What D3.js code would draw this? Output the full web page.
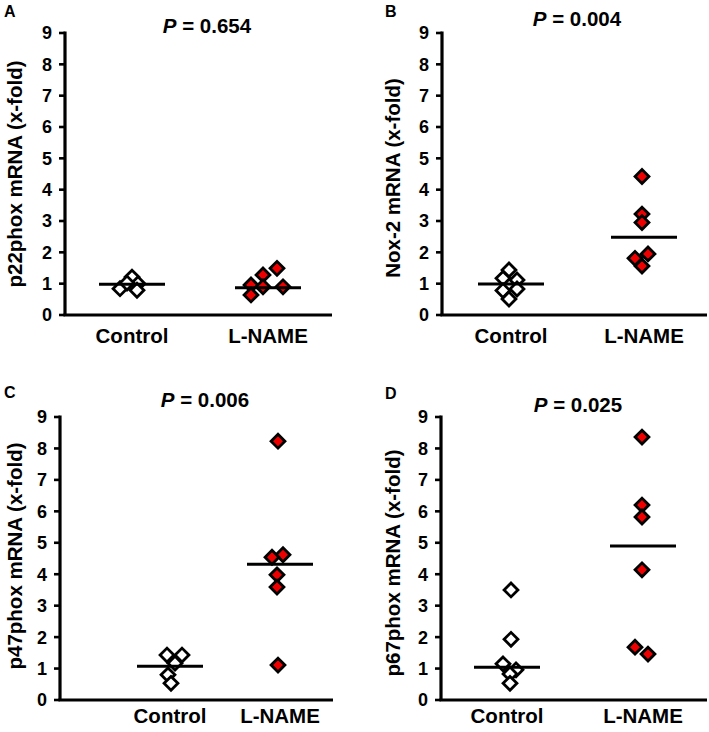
<!DOCTYPE html>
<html>
<head>
<meta charset="utf-8">
<script src="https://cdn.jsdelivr.net/npm/d3@7"></script>
<style>
  body { margin: 0; background: #fff; }
  svg text { font-family: Arial, "Liberation Sans", sans-serif; font-weight: bold; fill: #000; }
  .ytick { font-size: 18px; }
</style>
</head>
<body>
<div id="chart"></div>
<script>
// categories, ticks and labels
var groups = ["Control", "L-NAME"];
var yTicks = [0, 1, 2, 3, 4, 5, 6, 7, 8, 9];
var panelLetters = ["A", "B", "C", "D"];
var pValues = ["0.654", "0.004", "0.006", "0.025"];
var yTitles = ["p22phox mRNA (x-fold)", "Nox-2 mRNA (x-fold)", "p47phox mRNA (x-fold)", "p67phox mRNA (x-fold)"];

// values (x-fold)
var p22Control = [1.21, 1.00, 0.84, 1.02, 0.79];
var p22Lname   = [1.49, 1.28, 0.96, 0.90, 0.90, 0.64];
var p22Lines   = [0.98, 0.87];

var nox2Control = [1.44, 1.17, 1.12, 0.78, 0.83, 0.51];
var nox2Lname   = [4.42, 3.22, 2.95, 1.81, 1.95, 1.56];
var nox2Lines   = [0.99, 2.48];

var p47Control = [1.43, 1.43, 1.17, 0.80, 0.53];
var p47Lname   = [8.23, 4.62, 4.54, 3.98, 3.59, 1.11];
var p47Lines   = [1.07, 4.32];

var p67Control = [3.50, 1.93, 1.15, 0.96, 0.83, 0.53];
var p67Lname   = [8.36, 6.20, 5.82, 4.14, 1.68, 1.46];
var p67Lines   = [1.04, 4.90];

var panelData = [
  [p22Control, p22Lname, p22Lines],
  [nox2Control, nox2Lname, nox2Lines],
  [p47Control, p47Lname, p47Lines],
  [p67Control, p67Lname, p67Lines]
];

// layout of each panel (pixels), plus horizontal scatter of the points
var layout = [
  {x0: 65, x1: 332, top: 33, bottom: 315, cats: [132, 268], letter: [4, 17], title: [207, 33], yTitle: [22, 174], labelPad: 13,
   jitter: [[0, 6, -12, -5, 5], [9, -5, -17, -5, 15, -17]]},
  {x0: 442, x1: 707, top: 33, bottom: 315, cats: [511, 644], letter: [385, 17], title: [577, 26], yTitle: [400, 178], labelPad: 13,
   jitter: [[-2, -8, 6, -8, 6, -2], [-2, -2, -2, -9, 4, -2]]},
  {x0: 60, x1: 333, top: 417, bottom: 700, cats: [170, 280], letter: [4, 398], title: [205, 407], yTitle: [22, 556], labelPad: 8,
   jitter: [[-3, 12, 5, -2, 1], [-2, 3, -8, -3, -3, -2]]},
  {x0: 441, x1: 707, top: 417, bottom: 700, cats: [507, 643], letter: [385, 399], title: [578, 412], yTitle: [400, 563], labelPad: 8,
   jitter: [[4, 4, -4, 9, 3, 3], [-1, -1, -1, -1, -8, 5]]}
];

var fills = ["#ffffff", "#ee0000"];

var svg = d3.select("#chart")
  .append("svg")
    .attr("width", 709)
    .attr("height", 732);

var diamond = d3.symbol().type(d3.symbolSquare).size(96);

layout.forEach(function(p, i) {
  var g = svg.append("g");
  var data = panelData[i];

  var y = d3.scaleLinear().domain([0, 9]).range([p.bottom, p.top]);
  var x = d3.scalePoint().domain(groups).range(p.cats);

  // Y axis line and ticks
  g.append("line")
    .attr("x1", p.x0).attr("x2", p.x0)
    .attr("y1", y(9) - 1.5).attr("y2", p.bottom)
    .attr("stroke", "#000").attr("stroke-width", 3.2);
  g.selectAll(".ytickline")
    .data(yTicks)
    .enter()
    .append("line")
      .attr("x1", p.x0 - 6).attr("x2", p.x0)
      .attr("y1", function(d) { return y(d); })
      .attr("y2", function(d) { return y(d); })
      .attr("stroke", "#000").attr("stroke-width", 2.6);
  g.selectAll(".ytick")
    .data(yTicks)
    .enter()
    .append("text")
      .attr("class", "ytick")
      .attr("x", p.x0 - 13)
      .attr("y", function(d) { return y(d); })
      .attr("dy", "0.36em")
      .attr("text-anchor", "end")
      .text(function(d) { return d; });

  // X axis line
  g.append("line")
    .attr("x1", p.x0 - 1.6).attr("x2", p.x1)
    .attr("y1", p.bottom).attr("y2", p.bottom)
    .attr("stroke", "#000").attr("stroke-width", 3.2);

  // category labels
  g.selectAll(".xlab")
    .data(groups)
    .enter()
    .append("text")
      .attr("x", function(d) { return x(d); })
      .attr("y", p.bottom + p.labelPad)
      .attr("dy", "0.71em")
      .attr("text-anchor", "middle")
      .style("font-size", "20.5px")
      .text(function(d) { return d; });

  // y title
  g.append("text")
    .attr("transform", "translate(" + p.yTitle[0] + "," + p.yTitle[1] + ")rotate(-90)")
    .attr("text-anchor", "middle")
    .style("font-size", "20.5px")
    .text(yTitles[i]);

  // panel letter
  g.append("text")
    .attr("x", p.letter[0]).attr("y", p.letter[1])
    .style("font-size", "16px")
    .text(panelLetters[i]);

  // P value
  var t = g.append("text")
    .attr("x", p.title[0]).attr("y", p.title[1])
    .attr("text-anchor", "middle")
    .style("font-size", "20.5px");
  t.append("tspan").style("font-style", "italic").text("P");
  t.append("tspan").text(" = " + pValues[i]);

  // points
  groups.forEach(function(grp, k) {
    g.selectAll(".pt" + k)
      .data(data[k])
      .enter()
      .append("path")
        .attr("d", diamond)
        .attr("transform", function(d, j) {
          return "translate(" + (x(grp) + p.jitter[k][j]) + "," + y(d) + ")rotate(45)";
        })
        .attr("fill", fills[k])
        .attr("stroke", "#000")
        .attr("stroke-width", 2.8);
  });

  // central lines
  g.selectAll(".midline")
    .data(data[2])
    .enter()
    .append("line")
      .attr("x1", function(d, k) { return x(groups[k]) - 33; })
      .attr("x2", function(d, k) { return x(groups[k]) + 33; })
      .attr("y1", function(d) { return y(d); })
      .attr("y2", function(d) { return y(d); })
      .attr("stroke", "#000")
      .attr("stroke-width", 3);
});
</script>
</body>
</html>
